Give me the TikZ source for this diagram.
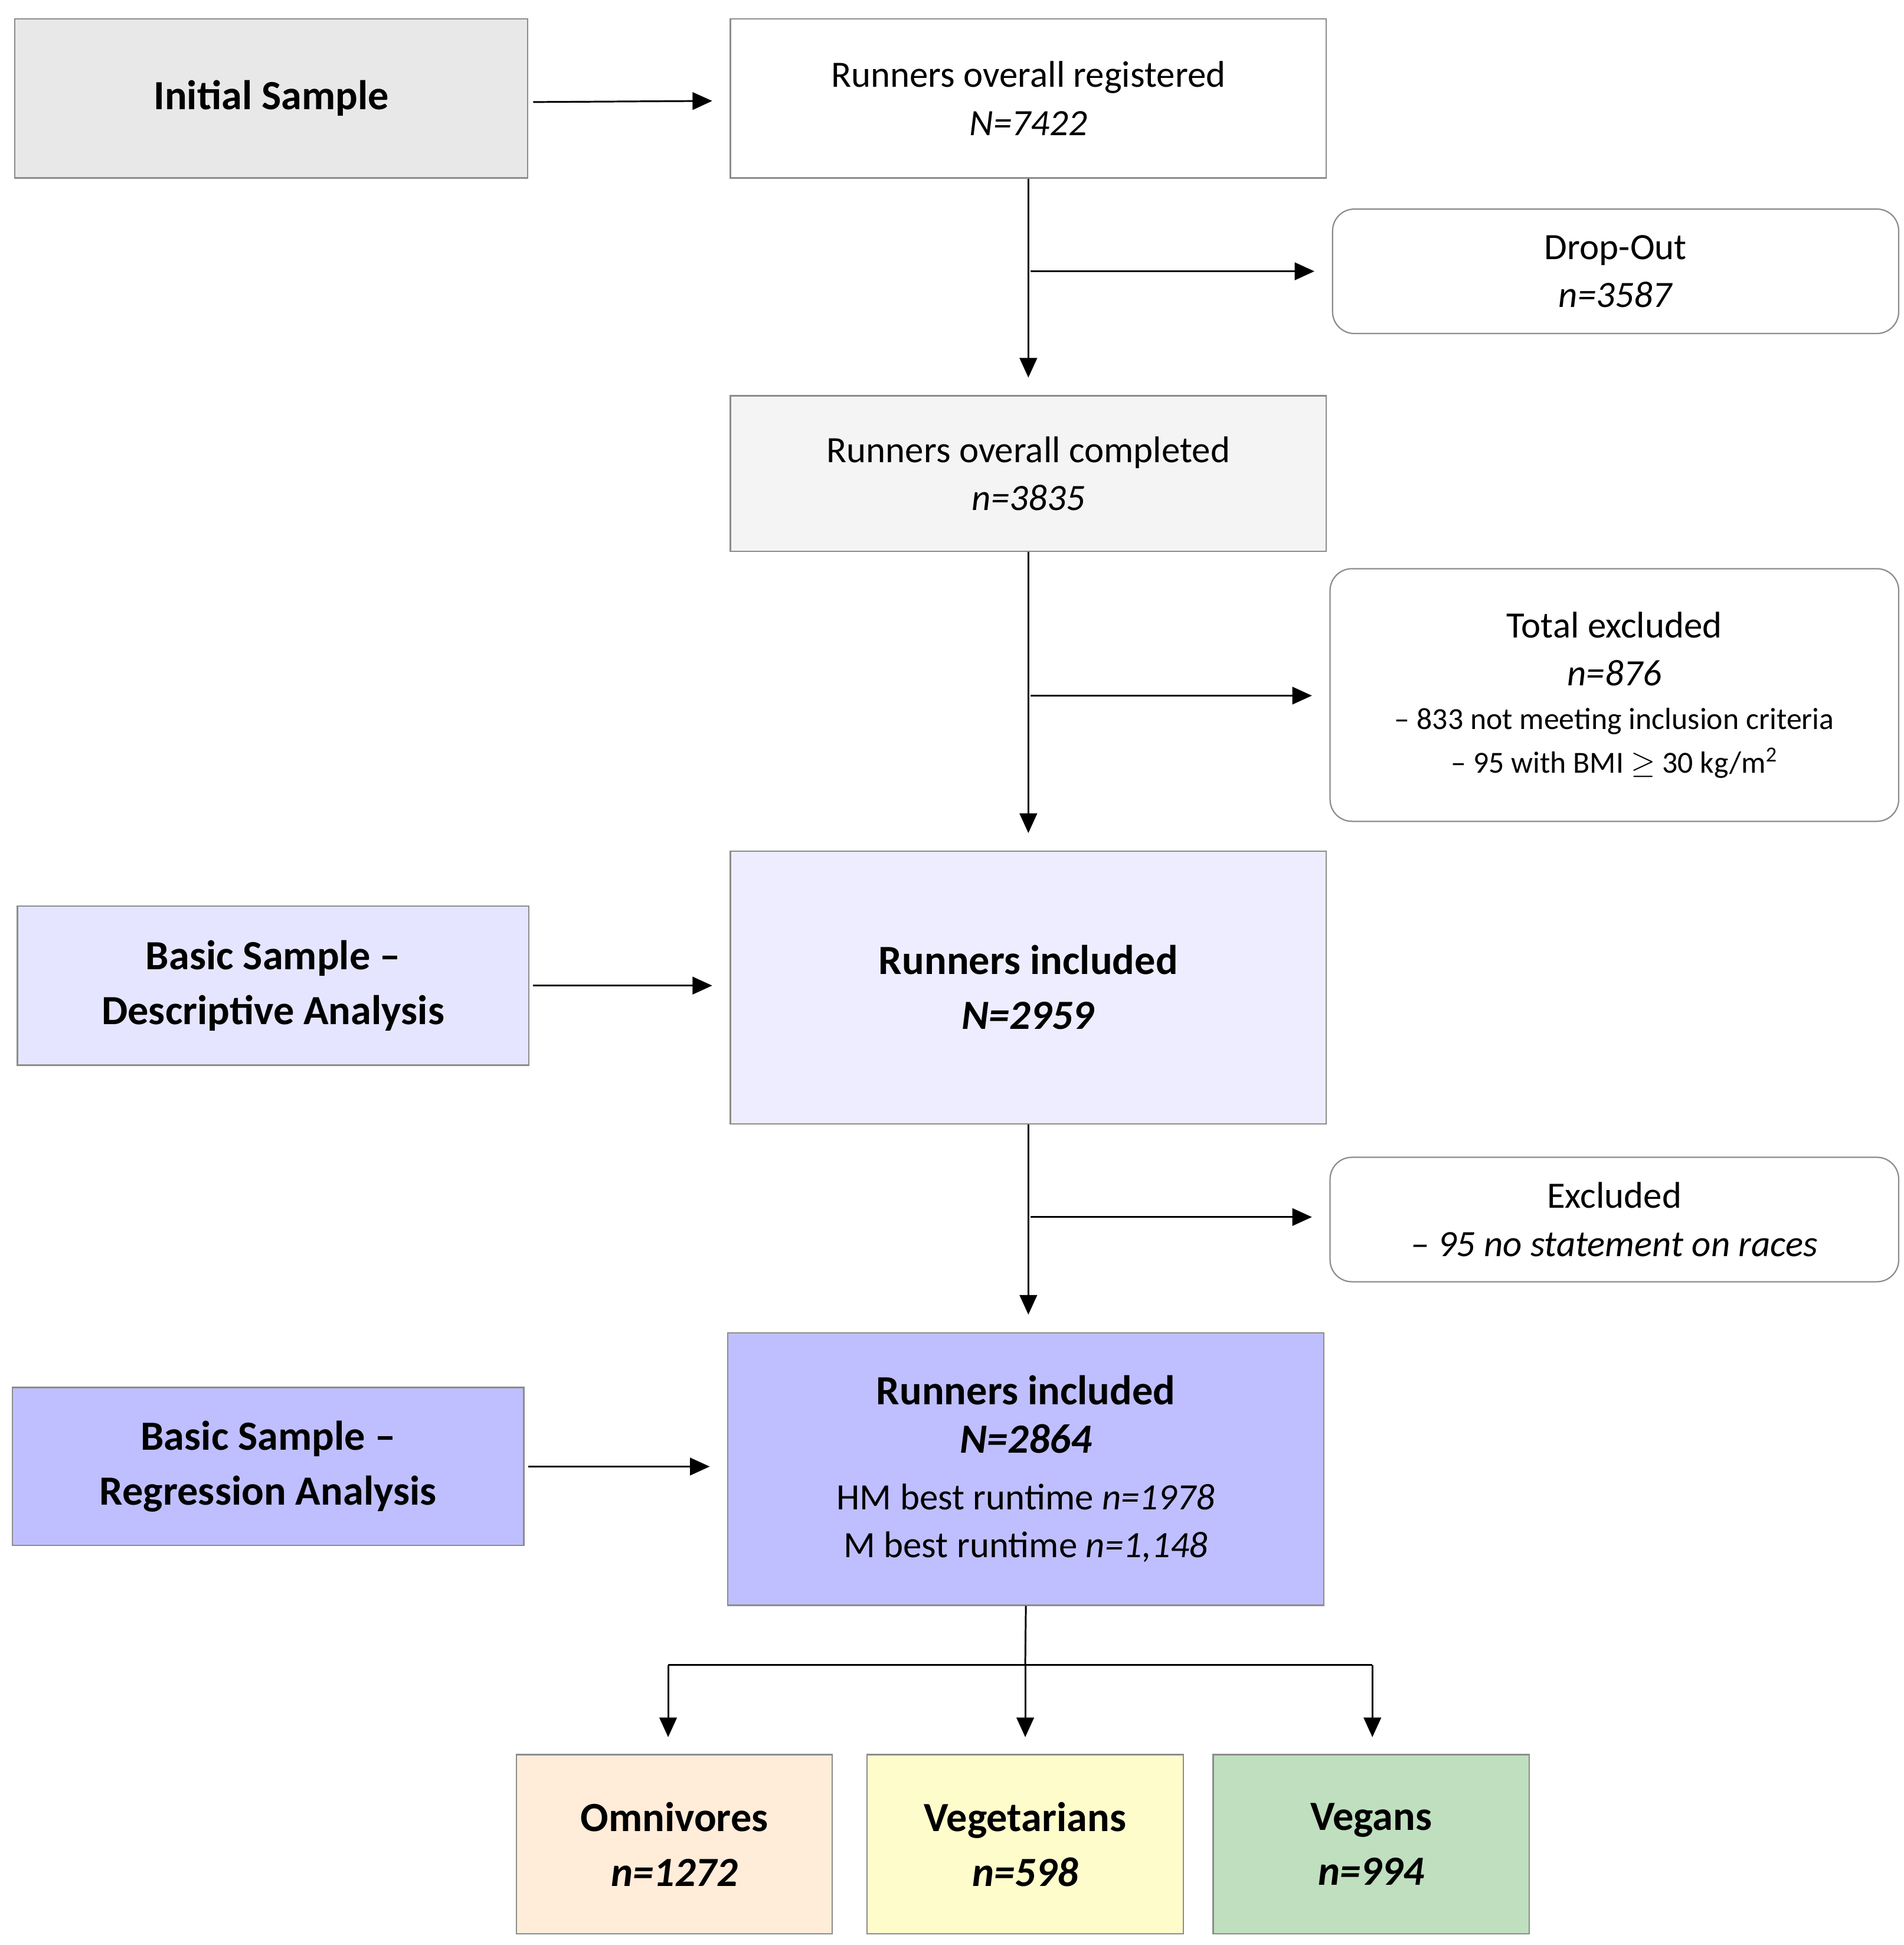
\documentclass[tikz,border=0pt]{standalone}
\usepackage{fontspec}
\setmainfont{Carlito}
\usetikzlibrary{arrows.meta}
\definecolor{bd}{HTML}{8C8C8C}
\begin{document}
\begin{tikzpicture}[x=0.02cm,y=-0.02cm,
 box/.style={draw=bd,line width=0.6pt,align=center,inner sep=0pt,font=\fontsize{17}{22}\selectfont},
 rbox/.style={box,rounded corners=0.35cm},
 big/.style={font=\fontsize{19}{25}\selectfont\bfseries},
 arr/.style={-{Triangle[length=9pt,width=8pt]},line width=0.8pt,shorten >=8pt}]
\useasboundingbox (0,0) rectangle (1530,1563);
\newcommand\bx[7]{\node[#1,fill=#7,minimum width={(#4-#2)*0.02cm},minimum height={(#5-#3)*0.02cm}] (#6) at ({(#2+#4)/2},{(#3+#5)/2})}
\bx{box,big}{12}{15}{424}{143}{init}{gray!18}{Initial Sample};
\bx{box}{587}{15}{1066}{143}{reg}{white}{Runners overall registered\\ \textit{N=7422}};
\bx{rbox}{1071}{168}{1526}{268}{drop}{white}{Drop-Out\\ \textit{n=3587}};
\bx{box}{587}{318}{1066}{443}{comp}{gray!9}{Runners overall completed\\ \textit{n=3835}};
\bx{rbox}{1069}{457}{1526}{660}{tex}{white}{Total excluded\\ \textit{n=876}\\[-2pt] {\fontsize{14}{18}\selectfont -- 833 not meeting inclusion criteria}\\[-2pt] {\fontsize{14}{18}\selectfont -- 95 with BMI $\geq$ 30 kg/m\textsuperscript{2}}};
\bx{box,big}{587}{684}{1066}{903}{inc1}{blue!7!white}{Runners included\\ \textit{N=2959}};
\bx{box,big}{14}{728}{425}{856}{desc}{blue!10!white}{Basic Sample --\\ Descriptive Analysis};
\bx{rbox}{1069}{930}{1526}{1030}{exc}{white}{Excluded\\ \textit{-- 95 no statement on races}};
\bx{box}{585}{1071}{1064}{1290}{inc2}{blue!25!white}{{\bfseries\fontsize{19}{25}\selectfont Runners included}\\ {\bfseries\itshape\fontsize{19}{25}\selectfont N=2864}\\[4pt] HM best runtime \textit{n=1978}\\ M best runtime \textit{n=1,148}};
\bx{box,big}{10}{1115}{421}{1242}{regr}{blue!25!white}{Basic Sample --\\ Regression Analysis};
\bx{box,big}{415}{1410}{669}{1554}{omni}{orange!15!white}{Omnivores\\ \textit{n=1272}};
\bx{box,big}{697}{1410}{951}{1554}{veg}{yellow!20!white}{Vegetarians\\ \textit{n=598}};
\bx{box,big}{975}{1410}{1229}{1554}{vegan}{green!50!black!25!white}{Vegans\\ \textit{n=994}};
\draw[arr] (init.east)++(4,3) -- (reg.west|-{0,81});
\draw[arr] (reg.south) -- (comp.north);
\coordinate (b1) at (828,218);
\draw[arr] (b1) -- (drop.west|-b1);
\draw[arr] (comp.south) -- (inc1.north-|comp.south);
\coordinate (b2) at (828,559);
\draw[arr] (b2) -- (tex.west|-b2);
\draw[arr] (desc.east)++(3,0) -- (inc1.west|-desc.east);
\draw[arr] (inc1.south) -- (inc2.north-|inc1.south);
\coordinate (b3) at (828,978);
\draw[arr] (b3) -- (exc.west|-b3);
\draw[arr] (regr.east)++(3,0) -- (inc2.west|-regr.east);
\coordinate (j) at (824,1338);
\draw[line width=0.8pt] (inc2.south) -- (j);
\draw[line width=0.8pt] (537,1338) -- (1103,1338);
\draw[arr] (537,1338) -- (537,1410);
\draw[arr] (j) -- (824,1410);
\draw[arr] (1103,1338) -- (1103,1410);
\end{tikzpicture}
\end{document}
